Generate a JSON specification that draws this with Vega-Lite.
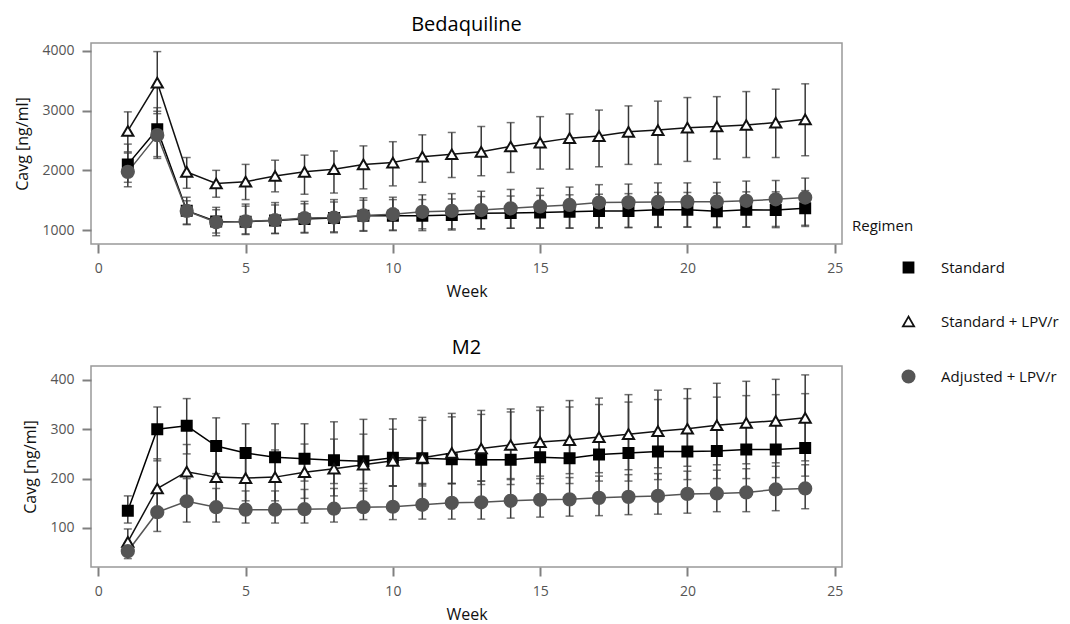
{
  "$schema": "https://vega.github.io/schema/vega-lite/v6.json",
  "padding": {"left": 14, "top": 14, "right": 0, "bottom": 0},
  "background": "white",
  "config": {
    "font": "Open Sans",
    "view": {"stroke": "#999999", "strokeWidth": 1.5},
    "axis": {"domain": false, "grid": false, "tickColor": "#808080", "tickWidth": 2, "tickSize": 9, "labelColor": "#555555", "labelFont": "Open Sans", "labelFontSize": 14, "labelPadding": 8, "titleFont": "Open Sans", "titleFontSize": 16, "titleFontWeight": "normal", "titleColor": "#111111", "format": "d"},
    "axisY": {"titlePadding": 11},
    "axisX": {"titlePadding": 8},
    "title": {"font": "Open Sans", "fontSize": 20, "fontWeight": "normal", "color": "#000000", "offset": 8},
    "legend": {"titleFont": "Open Sans", "titleFontSize": 15, "titleFontWeight": "normal", "titleColor": "#111111", "labelFont": "Open Sans", "labelFontSize": 15, "labelColor": "#111111", "padding": 0}
  },
  "datasets": {
    "bdq": [
      {"Week":1,"Regimen":"Standard","Cavg":2100,"Lo":1800,"Hi":2440},
      {"Week":2,"Regimen":"Standard","Cavg":2690,"Lo":2230,"Hi":3050},
      {"Week":3,"Regimen":"Standard","Cavg":1325,"Lo":1100,"Hi":1550},
      {"Week":4,"Regimen":"Standard","Cavg":1145,"Lo":950,"Hi":1380},
      {"Week":5,"Regimen":"Standard","Cavg":1140,"Lo":935,"Hi":1400},
      {"Week":6,"Regimen":"Standard","Cavg":1160,"Lo":945,"Hi":1420},
      {"Week":7,"Regimen":"Standard","Cavg":1185,"Lo":950,"Hi":1440},
      {"Week":8,"Regimen":"Standard","Cavg":1200,"Lo":955,"Hi":1470},
      {"Week":9,"Regimen":"Standard","Cavg":1240,"Lo":980,"Hi":1500},
      {"Week":10,"Regimen":"Standard","Cavg":1240,"Lo":990,"Hi":1510},
      {"Week":11,"Regimen":"Standard","Cavg":1240,"Lo":990,"Hi":1510},
      {"Week":12,"Regimen":"Standard","Cavg":1250,"Lo":1000,"Hi":1520},
      {"Week":13,"Regimen":"Standard","Cavg":1280,"Lo":1020,"Hi":1560},
      {"Week":14,"Regimen":"Standard","Cavg":1285,"Lo":1030,"Hi":1570},
      {"Week":15,"Regimen":"Standard","Cavg":1295,"Lo":1030,"Hi":1580},
      {"Week":16,"Regimen":"Standard","Cavg":1305,"Lo":1030,"Hi":1590},
      {"Week":17,"Regimen":"Standard","Cavg":1320,"Lo":1040,"Hi":1600},
      {"Week":18,"Regimen":"Standard","Cavg":1320,"Lo":1040,"Hi":1610},
      {"Week":19,"Regimen":"Standard","Cavg":1340,"Lo":1050,"Hi":1630},
      {"Week":20,"Regimen":"Standard","Cavg":1340,"Lo":1050,"Hi":1630},
      {"Week":21,"Regimen":"Standard","Cavg":1315,"Lo":1040,"Hi":1620},
      {"Week":22,"Regimen":"Standard","Cavg":1340,"Lo":1050,"Hi":1640},
      {"Week":23,"Regimen":"Standard","Cavg":1335,"Lo":1040,"Hi":1640},
      {"Week":24,"Regimen":"Standard","Cavg":1365,"Lo":1060,"Hi":1660},
      {"Week":1,"Regimen":"Standard + LPV/r","Cavg":2660,"Lo":2310,"Hi":2980},
      {"Week":2,"Regimen":"Standard + LPV/r","Cavg":3470,"Lo":2950,"Hi":3990},
      {"Week":3,"Regimen":"Standard + LPV/r","Cavg":1975,"Lo":1700,"Hi":2215},
      {"Week":4,"Regimen":"Standard + LPV/r","Cavg":1780,"Lo":1550,"Hi":2000},
      {"Week":5,"Regimen":"Standard + LPV/r","Cavg":1810,"Lo":1510,"Hi":2100},
      {"Week":6,"Regimen":"Standard + LPV/r","Cavg":1905,"Lo":1640,"Hi":2170},
      {"Week":7,"Regimen":"Standard + LPV/r","Cavg":1975,"Lo":1600,"Hi":2255},
      {"Week":8,"Regimen":"Standard + LPV/r","Cavg":2020,"Lo":1620,"Hi":2325},
      {"Week":9,"Regimen":"Standard + LPV/r","Cavg":2100,"Lo":1690,"Hi":2410},
      {"Week":10,"Regimen":"Standard + LPV/r","Cavg":2130,"Lo":1740,"Hi":2480},
      {"Week":11,"Regimen":"Standard + LPV/r","Cavg":2230,"Lo":1800,"Hi":2595},
      {"Week":12,"Regimen":"Standard + LPV/r","Cavg":2270,"Lo":1880,"Hi":2635},
      {"Week":13,"Regimen":"Standard + LPV/r","Cavg":2310,"Lo":1910,"Hi":2735},
      {"Week":14,"Regimen":"Standard + LPV/r","Cavg":2400,"Lo":1965,"Hi":2800},
      {"Week":15,"Regimen":"Standard + LPV/r","Cavg":2465,"Lo":2020,"Hi":2900},
      {"Week":16,"Regimen":"Standard + LPV/r","Cavg":2540,"Lo":2020,"Hi":2945},
      {"Week":17,"Regimen":"Standard + LPV/r","Cavg":2575,"Lo":2060,"Hi":3010},
      {"Week":18,"Regimen":"Standard + LPV/r","Cavg":2645,"Lo":2100,"Hi":3080},
      {"Week":19,"Regimen":"Standard + LPV/r","Cavg":2675,"Lo":2100,"Hi":3160},
      {"Week":20,"Regimen":"Standard + LPV/r","Cavg":2715,"Lo":2150,"Hi":3220},
      {"Week":21,"Regimen":"Standard + LPV/r","Cavg":2735,"Lo":2190,"Hi":3235},
      {"Week":22,"Regimen":"Standard + LPV/r","Cavg":2760,"Lo":2215,"Hi":3320},
      {"Week":23,"Regimen":"Standard + LPV/r","Cavg":2800,"Lo":2215,"Hi":3360},
      {"Week":24,"Regimen":"Standard + LPV/r","Cavg":2855,"Lo":2245,"Hi":3450},
      {"Week":1,"Regimen":"Adjusted + LPV/r","Cavg":1975,"Lo":1725,"Hi":2290},
      {"Week":2,"Regimen":"Adjusted + LPV/r","Cavg":2590,"Lo":2200,"Hi":2990},
      {"Week":3,"Regimen":"Adjusted + LPV/r","Cavg":1320,"Lo":1090,"Hi":1490},
      {"Week":4,"Regimen":"Adjusted + LPV/r","Cavg":1130,"Lo":905,"Hi":1340},
      {"Week":5,"Regimen":"Adjusted + LPV/r","Cavg":1145,"Lo":925,"Hi":1435},
      {"Week":6,"Regimen":"Adjusted + LPV/r","Cavg":1165,"Lo":940,"Hi":1460},
      {"Week":7,"Regimen":"Adjusted + LPV/r","Cavg":1200,"Lo":960,"Hi":1480},
      {"Week":8,"Regimen":"Adjusted + LPV/r","Cavg":1210,"Lo":970,"Hi":1510},
      {"Week":9,"Regimen":"Adjusted + LPV/r","Cavg":1245,"Lo":990,"Hi":1540},
      {"Week":10,"Regimen":"Adjusted + LPV/r","Cavg":1265,"Lo":1000,"Hi":1550},
      {"Week":11,"Regimen":"Adjusted + LPV/r","Cavg":1305,"Lo":1020,"Hi":1590},
      {"Week":12,"Regimen":"Adjusted + LPV/r","Cavg":1320,"Lo":1020,"Hi":1610},
      {"Week":13,"Regimen":"Adjusted + LPV/r","Cavg":1335,"Lo":1020,"Hi":1650},
      {"Week":14,"Regimen":"Adjusted + LPV/r","Cavg":1365,"Lo":1030,"Hi":1680},
      {"Week":15,"Regimen":"Adjusted + LPV/r","Cavg":1395,"Lo":1035,"Hi":1700},
      {"Week":16,"Regimen":"Adjusted + LPV/r","Cavg":1420,"Lo":1035,"Hi":1720},
      {"Week":17,"Regimen":"Adjusted + LPV/r","Cavg":1460,"Lo":1035,"Hi":1760},
      {"Week":18,"Regimen":"Adjusted + LPV/r","Cavg":1465,"Lo":1045,"Hi":1770},
      {"Week":19,"Regimen":"Adjusted + LPV/r","Cavg":1470,"Lo":1045,"Hi":1790},
      {"Week":20,"Regimen":"Adjusted + LPV/r","Cavg":1475,"Lo":1050,"Hi":1790},
      {"Week":21,"Regimen":"Adjusted + LPV/r","Cavg":1475,"Lo":1050,"Hi":1800},
      {"Week":22,"Regimen":"Adjusted + LPV/r","Cavg":1490,"Lo":1050,"Hi":1820},
      {"Week":23,"Regimen":"Adjusted + LPV/r","Cavg":1515,"Lo":1060,"Hi":1830},
      {"Week":24,"Regimen":"Adjusted + LPV/r","Cavg":1545,"Lo":1080,"Hi":1870}
    ],
    "m2": [
      {"Week":1,"Regimen":"Standard","Cavg":135,"Lo":110,"Hi":165},
      {"Week":2,"Regimen":"Standard","Cavg":300,"Lo":236,"Hi":345},
      {"Week":3,"Regimen":"Standard","Cavg":307,"Lo":250,"Hi":362},
      {"Week":4,"Regimen":"Standard","Cavg":266,"Lo":210,"Hi":323},
      {"Week":5,"Regimen":"Standard","Cavg":252,"Lo":200,"Hi":311},
      {"Week":6,"Regimen":"Standard","Cavg":243,"Lo":195,"Hi":311},
      {"Week":7,"Regimen":"Standard","Cavg":240,"Lo":195,"Hi":311},
      {"Week":8,"Regimen":"Standard","Cavg":237,"Lo":190,"Hi":315},
      {"Week":9,"Regimen":"Standard","Cavg":235,"Lo":190,"Hi":320},
      {"Week":10,"Regimen":"Standard","Cavg":242,"Lo":185,"Hi":321},
      {"Week":11,"Regimen":"Standard","Cavg":241,"Lo":190,"Hi":324},
      {"Week":12,"Regimen":"Standard","Cavg":239,"Lo":190,"Hi":325},
      {"Week":13,"Regimen":"Standard","Cavg":238,"Lo":188,"Hi":330},
      {"Week":14,"Regimen":"Standard","Cavg":238,"Lo":188,"Hi":335},
      {"Week":15,"Regimen":"Standard","Cavg":243,"Lo":190,"Hi":338},
      {"Week":16,"Regimen":"Standard","Cavg":241,"Lo":190,"Hi":345},
      {"Week":17,"Regimen":"Standard","Cavg":249,"Lo":195,"Hi":350},
      {"Week":18,"Regimen":"Standard","Cavg":252,"Lo":195,"Hi":355},
      {"Week":19,"Regimen":"Standard","Cavg":255,"Lo":198,"Hi":360},
      {"Week":20,"Regimen":"Standard","Cavg":255,"Lo":198,"Hi":362},
      {"Week":21,"Regimen":"Standard","Cavg":256,"Lo":200,"Hi":365},
      {"Week":22,"Regimen":"Standard","Cavg":259,"Lo":200,"Hi":368},
      {"Week":23,"Regimen":"Standard","Cavg":259,"Lo":202,"Hi":370},
      {"Week":24,"Regimen":"Standard","Cavg":262,"Lo":205,"Hi":372},
      {"Week":1,"Regimen":"Standard + LPV/r","Cavg":72,"Lo":55,"Hi":98},
      {"Week":2,"Regimen":"Standard + LPV/r","Cavg":180,"Lo":130,"Hi":240},
      {"Week":3,"Regimen":"Standard + LPV/r","Cavg":214,"Lo":160,"Hi":269},
      {"Week":4,"Regimen":"Standard + LPV/r","Cavg":203,"Lo":150,"Hi":262},
      {"Week":5,"Regimen":"Standard + LPV/r","Cavg":201,"Lo":155,"Hi":255},
      {"Week":6,"Regimen":"Standard + LPV/r","Cavg":203,"Lo":155,"Hi":258},
      {"Week":7,"Regimen":"Standard + LPV/r","Cavg":213,"Lo":160,"Hi":270},
      {"Week":8,"Regimen":"Standard + LPV/r","Cavg":220,"Lo":165,"Hi":280},
      {"Week":9,"Regimen":"Standard + LPV/r","Cavg":228,"Lo":175,"Hi":290},
      {"Week":10,"Regimen":"Standard + LPV/r","Cavg":236,"Lo":185,"Hi":300},
      {"Week":11,"Regimen":"Standard + LPV/r","Cavg":242,"Lo":185,"Hi":318},
      {"Week":12,"Regimen":"Standard + LPV/r","Cavg":252,"Lo":190,"Hi":332},
      {"Week":13,"Regimen":"Standard + LPV/r","Cavg":261,"Lo":195,"Hi":338},
      {"Week":14,"Regimen":"Standard + LPV/r","Cavg":268,"Lo":200,"Hi":341},
      {"Week":15,"Regimen":"Standard + LPV/r","Cavg":274,"Lo":205,"Hi":345},
      {"Week":16,"Regimen":"Standard + LPV/r","Cavg":278,"Lo":210,"Hi":358},
      {"Week":17,"Regimen":"Standard + LPV/r","Cavg":284,"Lo":212,"Hi":363},
      {"Week":18,"Regimen":"Standard + LPV/r","Cavg":290,"Lo":218,"Hi":370},
      {"Week":19,"Regimen":"Standard + LPV/r","Cavg":296,"Lo":222,"Hi":379},
      {"Week":20,"Regimen":"Standard + LPV/r","Cavg":301,"Lo":225,"Hi":382},
      {"Week":21,"Regimen":"Standard + LPV/r","Cavg":308,"Lo":228,"Hi":393},
      {"Week":22,"Regimen":"Standard + LPV/r","Cavg":313,"Lo":230,"Hi":397},
      {"Week":23,"Regimen":"Standard + LPV/r","Cavg":317,"Lo":232,"Hi":401},
      {"Week":24,"Regimen":"Standard + LPV/r","Cavg":323,"Lo":236,"Hi":410},
      {"Week":1,"Regimen":"Adjusted + LPV/r","Cavg":53,"Lo":38,"Hi":70},
      {"Week":2,"Regimen":"Adjusted + LPV/r","Cavg":132,"Lo":93,"Hi":172},
      {"Week":3,"Regimen":"Adjusted + LPV/r","Cavg":154,"Lo":112,"Hi":200},
      {"Week":4,"Regimen":"Adjusted + LPV/r","Cavg":142,"Lo":112,"Hi":180},
      {"Week":5,"Regimen":"Adjusted + LPV/r","Cavg":137,"Lo":110,"Hi":175},
      {"Week":6,"Regimen":"Adjusted + LPV/r","Cavg":137,"Lo":110,"Hi":175},
      {"Week":7,"Regimen":"Adjusted + LPV/r","Cavg":138,"Lo":110,"Hi":178},
      {"Week":8,"Regimen":"Adjusted + LPV/r","Cavg":139,"Lo":112,"Hi":180},
      {"Week":9,"Regimen":"Adjusted + LPV/r","Cavg":142,"Lo":117,"Hi":180},
      {"Week":10,"Regimen":"Adjusted + LPV/r","Cavg":143,"Lo":117,"Hi":185},
      {"Week":11,"Regimen":"Adjusted + LPV/r","Cavg":147,"Lo":118,"Hi":188},
      {"Week":12,"Regimen":"Adjusted + LPV/r","Cavg":151,"Lo":118,"Hi":190},
      {"Week":13,"Regimen":"Adjusted + LPV/r","Cavg":152,"Lo":118,"Hi":195},
      {"Week":14,"Regimen":"Adjusted + LPV/r","Cavg":155,"Lo":120,"Hi":198},
      {"Week":15,"Regimen":"Adjusted + LPV/r","Cavg":157,"Lo":122,"Hi":200},
      {"Week":16,"Regimen":"Adjusted + LPV/r","Cavg":158,"Lo":124,"Hi":202},
      {"Week":17,"Regimen":"Adjusted + LPV/r","Cavg":161,"Lo":125,"Hi":205},
      {"Week":18,"Regimen":"Adjusted + LPV/r","Cavg":163,"Lo":127,"Hi":208},
      {"Week":19,"Regimen":"Adjusted + LPV/r","Cavg":165,"Lo":128,"Hi":210},
      {"Week":20,"Regimen":"Adjusted + LPV/r","Cavg":169,"Lo":130,"Hi":215},
      {"Week":21,"Regimen":"Adjusted + LPV/r","Cavg":170,"Lo":133,"Hi":217},
      {"Week":22,"Regimen":"Adjusted + LPV/r","Cavg":172,"Lo":133,"Hi":220},
      {"Week":23,"Regimen":"Adjusted + LPV/r","Cavg":178,"Lo":135,"Hi":225},
      {"Week":24,"Regimen":"Adjusted + LPV/r","Cavg":180,"Lo":139,"Hi":228}
    ]
  },
  "columns": 1,
  "align": "none",
  "spacing": 37,
  "concat": [
    {
      "title": "Bedaquiline",
      "width": 751,
      "height": 201,
      "data": {"name": "bdq"},
      "layer": [
        {
          "mark": {"type": "errorbar", "ticks": {"size": 8}, "thickness": 1.5, "color": "#383838"},
          "encoding": {
            "x": {"field": "Week", "type": "quantitative", "scale": {"domain": [-0.25, 25.25], "nice": false}, "axis": {"values": [0,5,10,15,20,25], "title": "Week"}},
            "y": {"field": "Lo", "type": "quantitative", "scale": {"domain": [766, 4134], "nice": false, "zero": false}, "axis": {"values": [1000,2000,3000,4000], "title": "Cavg [ng/ml]"}},
            "y2": {"field": "Hi"}
          }
        },
        {
          "mark": {"type": "line", "strokeWidth": 1.5},
          "encoding": {
            "x": {"field": "Week", "type": "quantitative"},
            "y": {"field": "Cavg", "type": "quantitative"},
            "stroke": {"field": "Regimen", "type": "nominal", "scale": {"domain": ["Standard", "Standard + LPV/r", "Adjusted + LPV/r"], "range": ["#000000", "#111111", "#555555"]}}
          }
        },
        {
          "mark": {"type": "point", "filled": false, "strokeWidth": 2, "opacity": 1},
          "encoding": {
            "x": {"field": "Week", "type": "quantitative"},
            "y": {"field": "Cavg", "type": "quantitative"},
            "shape": {"field": "Regimen", "type": "nominal", "title": "Regimen",
              "scale": {"domain": ["Standard", "Standard + LPV/r", "Adjusted + LPV/r"], "range": ["square", "triangle-up", "circle"]},
              "legend": {"orient": "none", "legendX": 761, "legendY": 176, "symbolSize": 100, "symbolOffset": 49, "labelOffset": 25, "rowPadding": 36, "titlePadding": 26, "symbolStrokeWidth": 1.8}},
            "fill": {"field": "Regimen", "type": "nominal", "scale": {"domain": ["Standard", "Standard + LPV/r", "Adjusted + LPV/r"], "range": ["#000000", "#ffffff", "#555555"]}},
            "stroke": {"field": "Regimen", "type": "nominal"},
            "size": {"field": "Regimen", "type": "nominal", "scale": {"domain": ["Standard", "Standard + LPV/r", "Adjusted + LPV/r"], "range": [100, 150, 90]}}
          }
        }
      ]
    },
    {
      "title": "M2",
      "width": 751,
      "height": 201,
      "data": {"name": "m2"},
      "layer": [
        {
          "mark": {"type": "errorbar", "ticks": {"size": 8}, "thickness": 1.5, "color": "#383838"},
          "encoding": {
            "x": {"field": "Week", "type": "quantitative", "scale": {"domain": [-0.25, 25.25], "nice": false}, "axis": {"values": [0,5,10,15,20,25], "title": "Week"}},
            "y": {"field": "Lo", "type": "quantitative", "scale": {"domain": [21, 428], "nice": false, "zero": false}, "axis": {"values": [100,200,300,400], "title": "Cavg [ng/ml]"}},
            "y2": {"field": "Hi"}
          }
        },
        {
          "mark": {"type": "line", "strokeWidth": 1.5},
          "encoding": {
            "x": {"field": "Week", "type": "quantitative"},
            "y": {"field": "Cavg", "type": "quantitative"},
            "stroke": {"field": "Regimen", "type": "nominal"}
          }
        },
        {
          "mark": {"type": "point", "filled": false, "strokeWidth": 2, "opacity": 1},
          "encoding": {
            "x": {"field": "Week", "type": "quantitative"},
            "y": {"field": "Cavg", "type": "quantitative"},
            "shape": {"field": "Regimen", "type": "nominal", "title": "Regimen"},
            "fill": {"field": "Regimen", "type": "nominal"},
            "stroke": {"field": "Regimen", "type": "nominal"},
            "size": {"field": "Regimen", "type": "nominal"}
          }
        }
      ]
    }
  ]
}
